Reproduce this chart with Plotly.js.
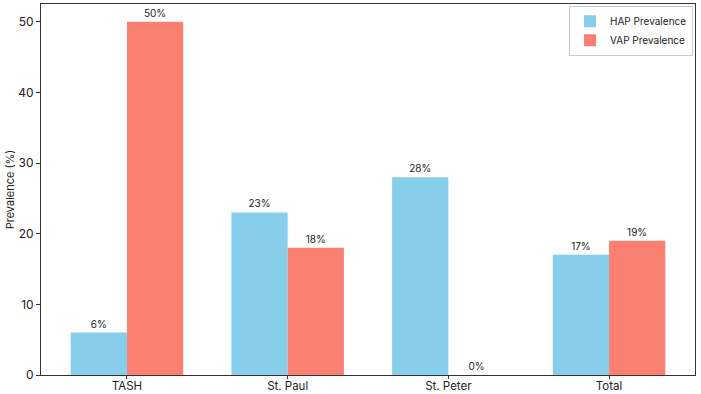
<!DOCTYPE html>
<html><head><meta charset="utf-8">
<script src="https://cdn.plot.ly/plotly-3.0.1.min.js"></script>
<style>html,body{margin:0;padding:0;background:#fff}#chart{width:701px;height:394px}</style>
</head><body><div id="chart"></div>
<script>
const categories = ["TASH", "St. Paul", "St. Peter", "Total"];
const hapValues = [6, 23, 28, 17];
const vapValues = [50, 18, 0, 19];
const yTicks = [0, 10, 20, 30, 40, 50];

const font = "Inter, 'DejaVu Sans', sans-serif";
const traces = [
  {type:"bar", name:"HAP Prevalence", x:categories, y:hapValues,
   marker:{color:"#87CEEB"}, text:hapValues.map(v=>v+"%"), textposition:"outside",
   textfont:{size:10, color:"#222"}, cliponaxis:false, hoverinfo:"none"},
  {type:"bar", name:"VAP Prevalence", x:categories, y:vapValues,
   marker:{color:"#FA8072"}, text:vapValues.map(v=>v+"%"), textposition:"outside",
   textfont:{size:10, color:"#222"}, cliponaxis:false, hoverinfo:"none"}
];
const layout = {
  width:701, height:394,
  margin:{l:41, r:6, t:4, b:19},
  paper_bgcolor:"#fff", plot_bgcolor:"#fff",
  font:{family:font, size:12, color:"#222"},
  barmode:"group", bargap:0.3, bargroupgap:0,
  xaxis:{type:"category", range:[-0.535, 3.535], showline:true, mirror:true,
    linecolor:"#333", linewidth:1, ticks:"outside", ticklen:3, tickcolor:"#333",
    showgrid:false, zeroline:false, tickfont:{size:11.5}, ticklabelstandoff:-3},
  yaxis:{range:[0, 52.5], tickvals:yTicks, showline:true, mirror:true,
    linecolor:"#333", linewidth:1, ticks:"outside", ticklen:4, tickcolor:"#333",
    showgrid:false, zeroline:false, tickfont:{size:12},
    title:{text:"Prevalence (%)", font:{size:11}, standoff:1}},
  legend:{x:0.997, y:0.995, xanchor:"right", yanchor:"top",
    bordercolor:"#ccc", borderwidth:1, bgcolor:"rgba(255,255,255,0.8)",
    font:{size:10}, tracegroupgap:0, itemwidth:30}
};
Plotly.newPlot("chart", traces, layout, {displayModeBar:false, staticPlot:true});
</script></body></html>
